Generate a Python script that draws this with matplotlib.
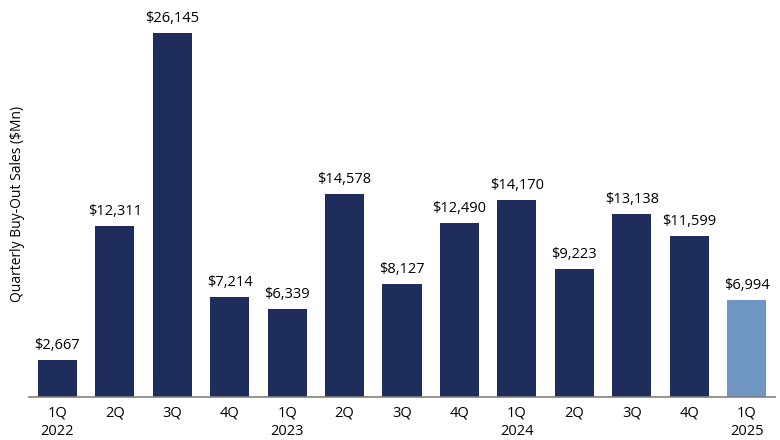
import matplotlib.pyplot as plt
import numpy as np

quarters = ["1Q\n2022", "2Q", "3Q", "4Q", "1Q\n2023", "2Q", "3Q", "4Q",
            "1Q\n2024", "2Q", "3Q", "4Q", "1Q\n2025"]
sales = [2667, 12311, 26145, 7214, 6339, 14578, 8127, 12490,
         14170, 9223, 13138, 11599, 6994]

DARK = "#1f2d5c"
LIGHT = "#7096c4"

plt.rcParams["font.family"] = ["Open Sans", "DejaVu Sans"]

fig = plt.figure(figsize=(7.8, 4.4), dpi=100)
ax = fig.add_axes([29 / 780, 43 / 440, 746 / 780, 387 / 440])

x = np.arange(len(sales))
colors = [DARK] * (len(sales) - 1) + [LIGHT]
bars = ax.bar(x, sales, width=0.68, color=colors)

for bar, val in zip(bars, sales):
    ax.text(bar.get_x() + bar.get_width() / 2, val + 500, f"${val:,}",
            ha="center", va="bottom", fontsize=10.5, color="black")

ax.set_xlim(-0.49, 12.49)
ax.set_ylim(0, 27800)
ax.set_xticks(x)
ax.set_xticklabels(quarters, fontsize=10.5, linespacing=1.3)
ax.tick_params(axis="x", length=0, pad=6)
ax.set_yticks([])
ax.set_ylabel("Quarterly Buy-Out Sales ($Mn)", fontsize=10, labelpad=3)

for side in ["top", "right", "left"]:
    ax.spines[side].set_visible(False)
ax.spines["bottom"].set_color("#808080")
ax.spines["bottom"].set_linewidth(1.2)

fig.savefig("out.png", dpi=100)
